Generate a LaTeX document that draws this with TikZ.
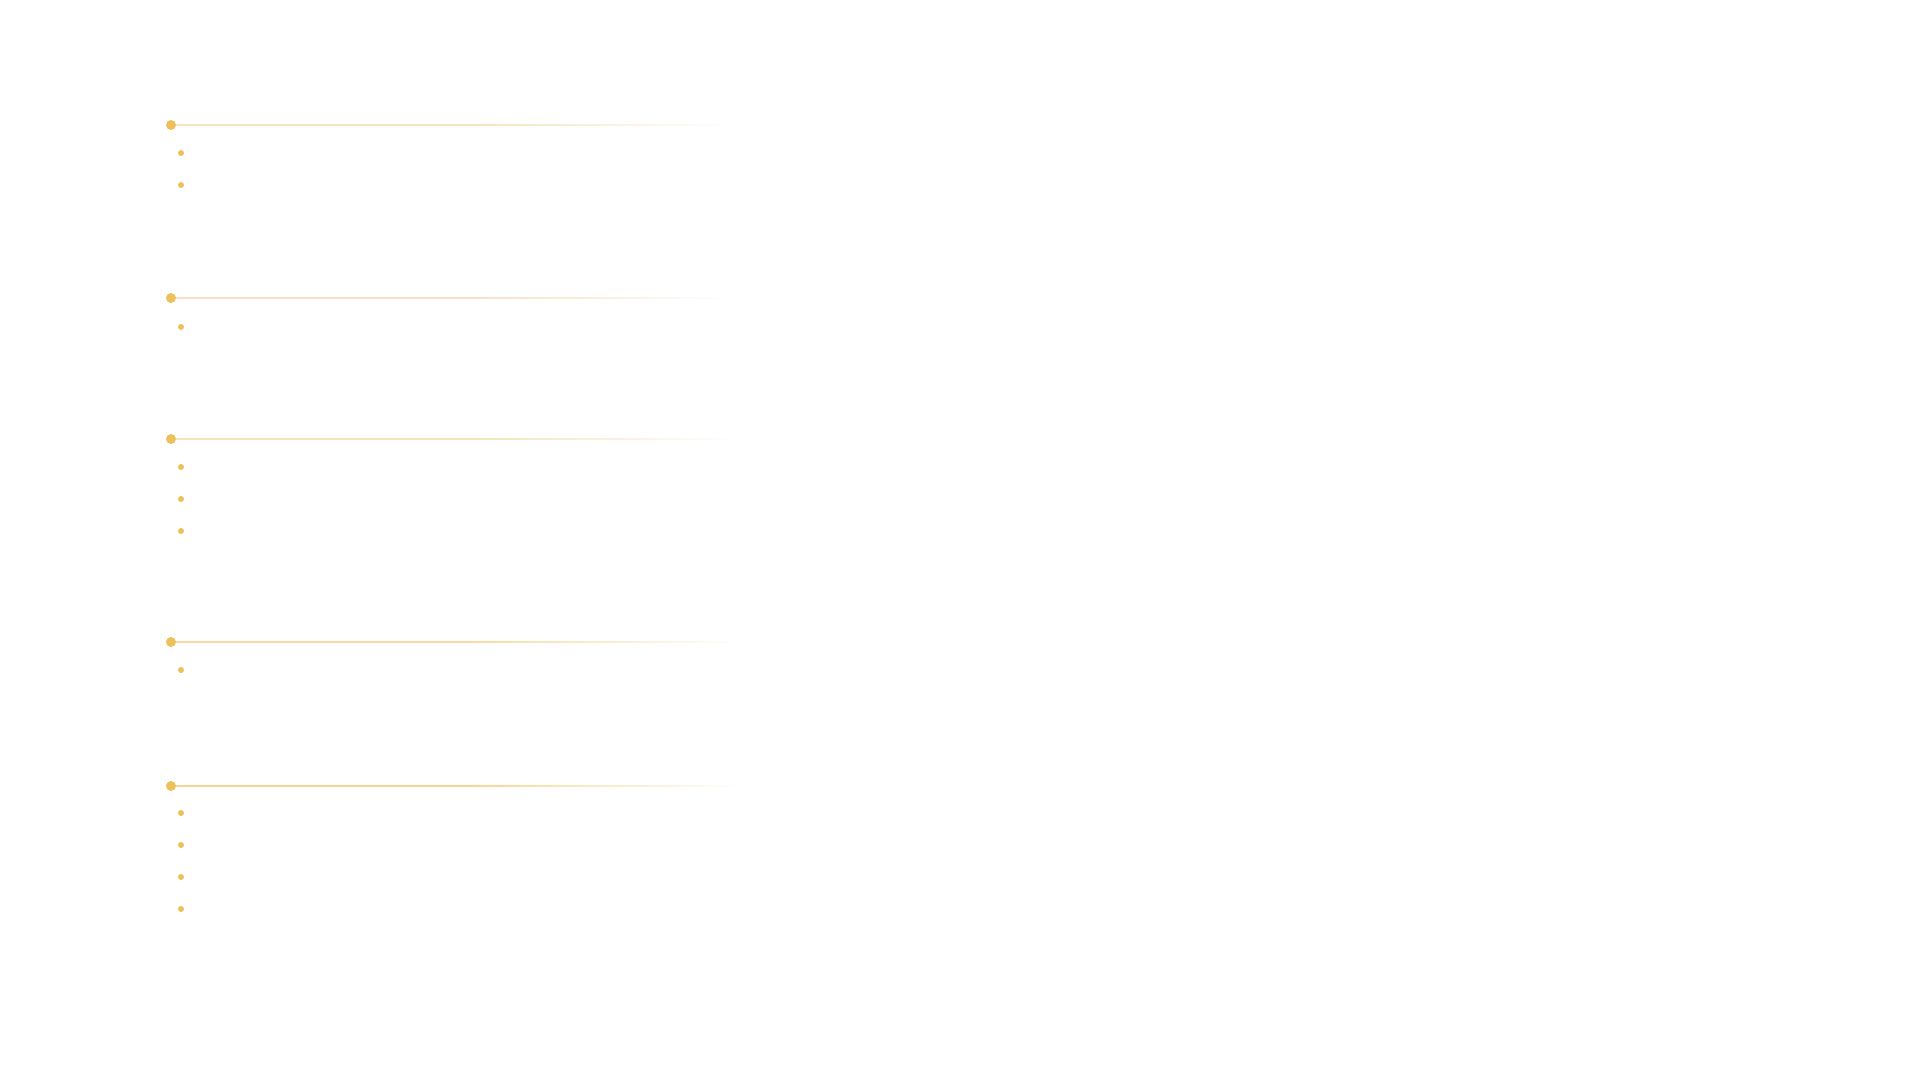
\documentclass[tikz,border=0pt]{standalone}
\usetikzlibrary{calc,fadings}

\definecolor{dotgold}{HTML}{EEC05B}
\definecolor{ruleA}{HTML}{F5E4BE}
\definecolor{ruleB}{HTML}{F4E1C6}
\definecolor{ruleC}{HTML}{F5E3BC}
\definecolor{ruleD}{HTML}{F6DCA0}
\definecolor{ruleE}{HTML}{F6D893}

\tikzfading[name=fadein, left color=transparent!100, right color=transparent!0]

\tikzset{
  bigdot/.style={circle, fill=dotgold, inner sep=0pt, minimum size=5pt},
  smalldot/.style={circle, fill=dotgold, inner sep=0pt, minimum size=3pt},
  headrule/.style={line width=1pt},
  tailfade/.style={fill=white, path fading=fadein}
}

\begin{document}
\begin{tikzpicture}[x=0.5pt, y=-0.5pt]
\useasboundingbox[fill=white] (0,0) rectangle (1920,1080);

% section heads
\node[bigdot] (h1) at (171,125) {};
\node[bigdot] (h2) at (171,298) {};
\node[bigdot] (h3) at (171,439) {};
\node[bigdot] (h4) at (171,642) {};
\node[bigdot] (h5) at (171,786) {};

% rules, faded out towards the right
\coordinate (m1) at (470,125); \coordinate (e1) at (725,125);
\coordinate (m2) at (470,298); \coordinate (e2) at (725,298);
\coordinate (m3) at (470,439); \coordinate (e3) at (735,439);
\coordinate (m4) at (470,642); \coordinate (e4) at (735,642);
\coordinate (m5) at (470,786); \coordinate (e5) at (735,786);

\draw[headrule, ruleA] (h1) -- (e1);
\draw[headrule, ruleB] (h2) -- (e2);
\draw[headrule, ruleC] (h3) -- (e3);
\draw[headrule, ruleD] (h4) -- (e4);
\draw[headrule, ruleE] (h5) -- (e5);
\foreach \i in {1,...,5}
  \fill[tailfade] ($(m\i)+(0,-4)$) rectangle ($(e\i)+(2,4)$);

% bullets
\node[smalldot] (b1a) at (181,153) {};
\node[smalldot] (b1b) at (181,185) {};
\node[smalldot] (b2a) at (181,327) {};
\node[smalldot] (b3a) at (181,467) {};
\node[smalldot] (b3b) at (181,499) {};
\node[smalldot] (b3c) at (181,531) {};
\node[smalldot] (b4a) at (181,670) {};
\node[smalldot] (b5a) at (181,813) {};
\node[smalldot] (b5b) at (181,845) {};
\node[smalldot] (b5c) at (181,877) {};
\node[smalldot] (b5d) at (181,909) {};
\end{tikzpicture}
\end{document}
